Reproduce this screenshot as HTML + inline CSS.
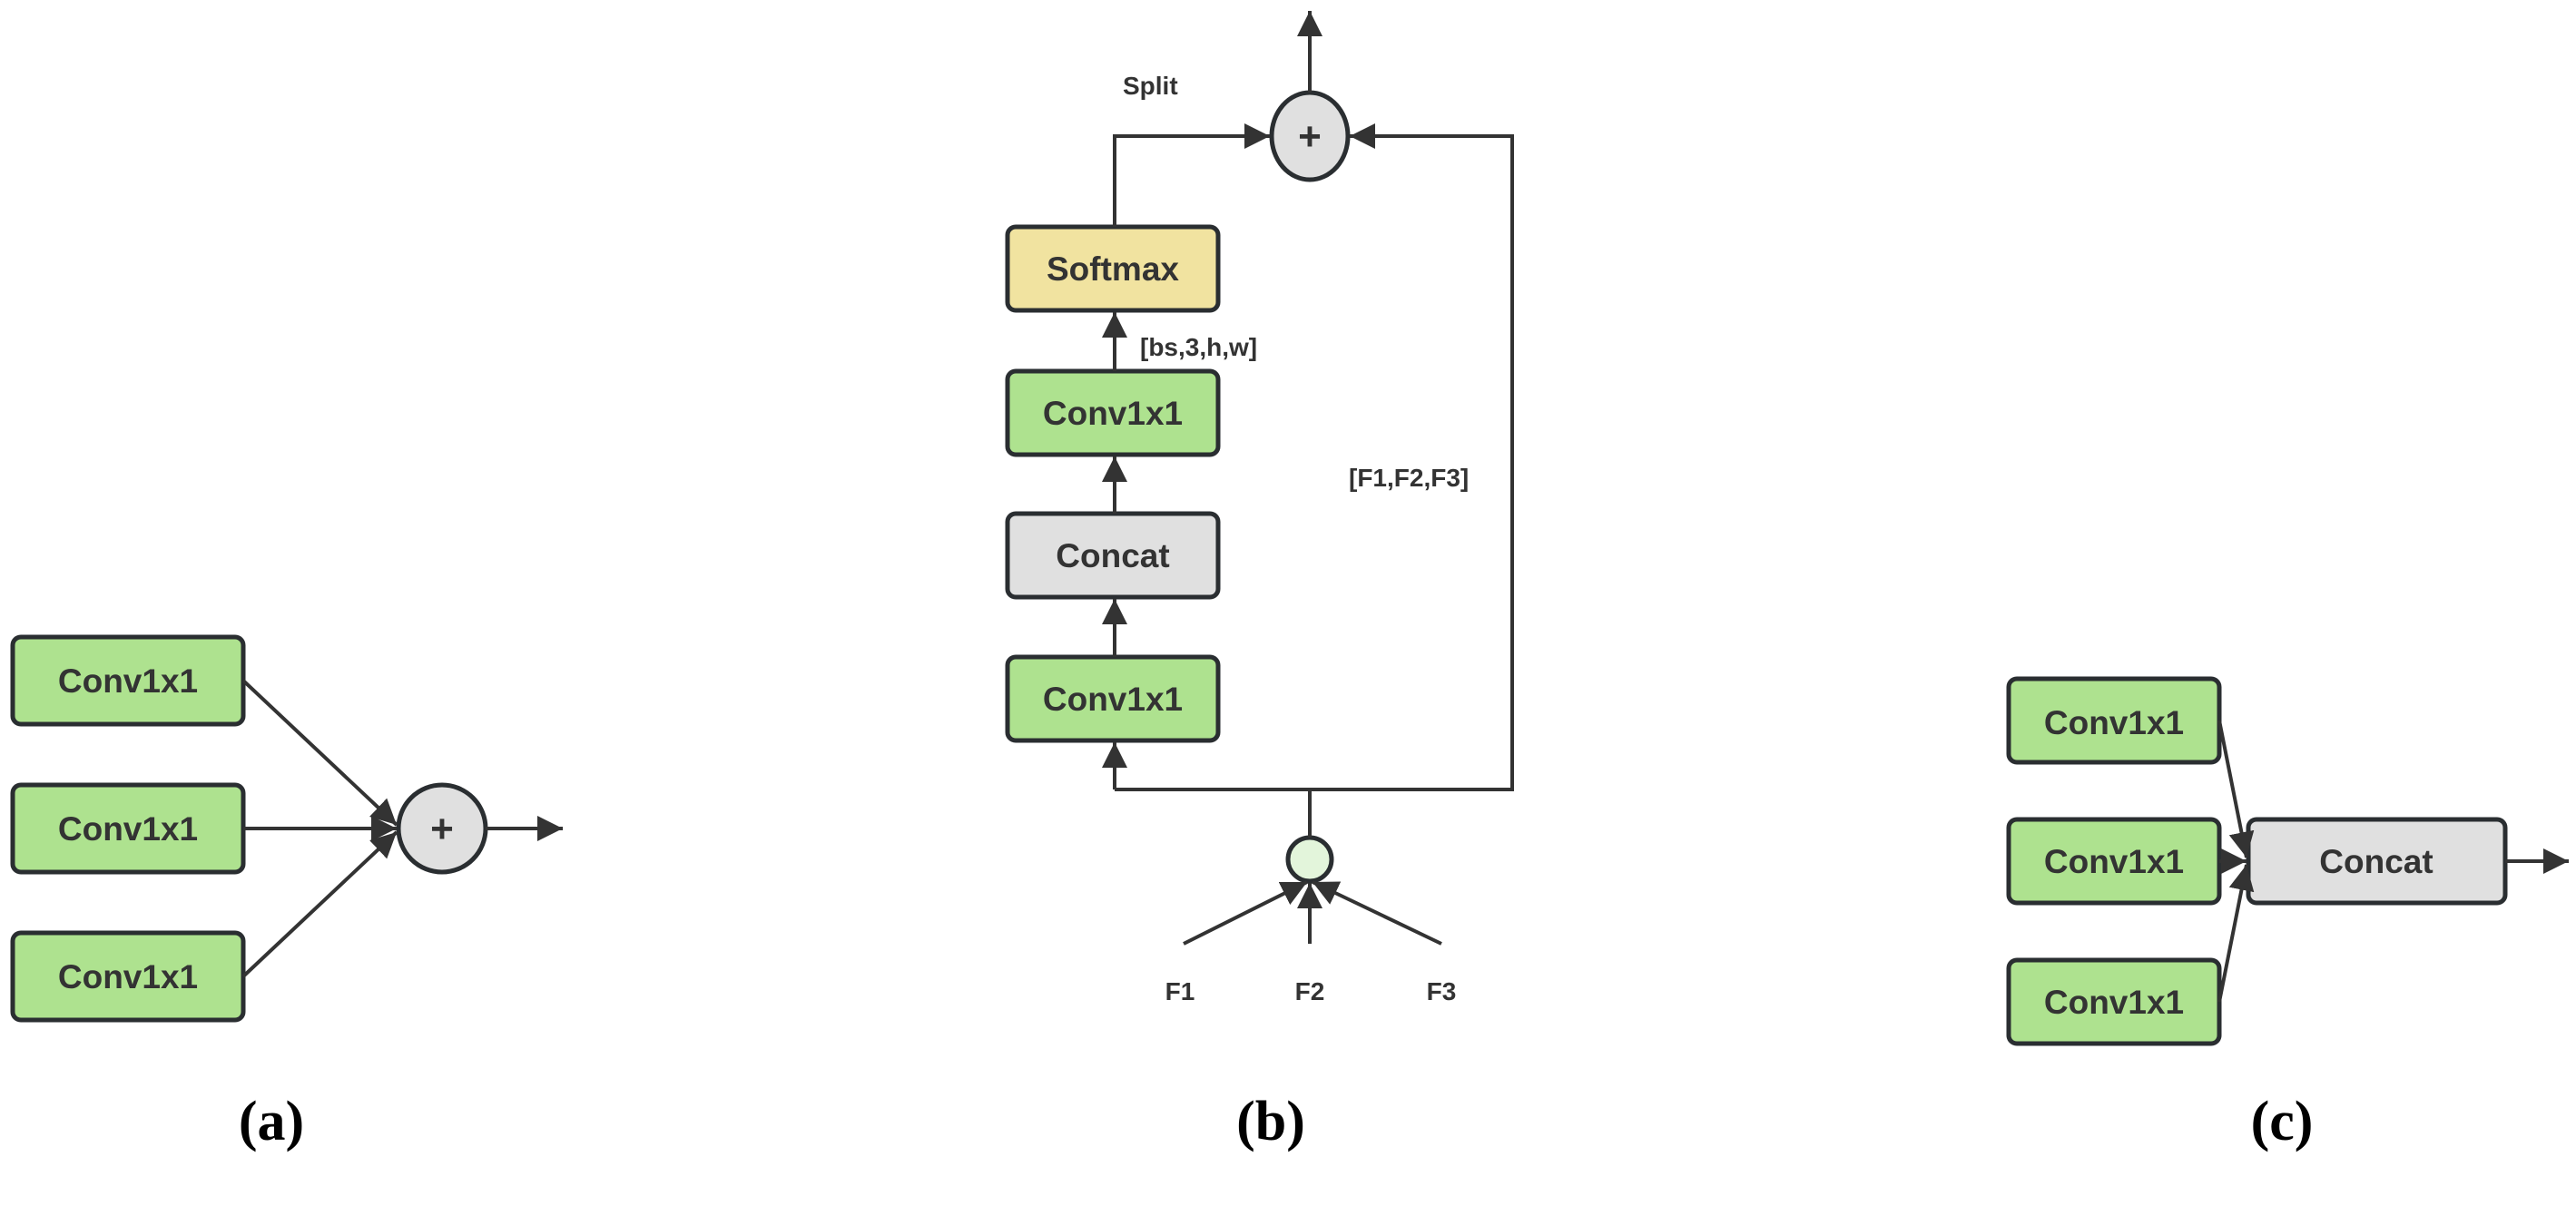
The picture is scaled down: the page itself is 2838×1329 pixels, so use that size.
<!DOCTYPE html>
<html><head><meta charset="utf-8"><style>
html,body{margin:0;padding:0;background:#fff;}
svg{display:block;}
.t{font-family:"Liberation Sans",sans-serif;font-weight:bold;fill:#333;}
.s{font-family:"Liberation Serif",serif;font-weight:bold;fill:#000;}
</style></head><body>
<svg width="2838" height="1329" viewBox="0 0 2838 1329" xmlns="http://www.w3.org/2000/svg">
<defs>
<marker id="ar" viewBox="0 0 10 10" refX="10" refY="5" markerWidth="7" markerHeight="7" markerUnits="strokeWidth" orient="auto">
<path d="M0,0 L10,5 L0,10 z" fill="#333"/></marker>
</defs>
<g stroke="#2a2e31" stroke-width="5">
<rect x="14" y="702" width="254" height="96" rx="9" fill="#aee28f"/>
<rect x="14" y="865" width="254" height="96" rx="9" fill="#aee28f"/>
<rect x="14" y="1028" width="254" height="96" rx="9" fill="#aee28f"/>
<circle cx="487" cy="913" r="48" fill="#e0e0e0"/>
<rect x="1110" y="250" width="232" height="92" rx="9" fill="#f1e3a0"/>
<rect x="1110" y="409" width="232" height="92" rx="9" fill="#aee28f"/>
<rect x="1110" y="566" width="232" height="92" rx="9" fill="#e0e0e0"/>
<rect x="1110" y="724" width="232" height="92" rx="9" fill="#aee28f"/>
<ellipse cx="1443" cy="150" rx="42" ry="48" fill="#e0e0e0"/>
<circle cx="1443" cy="947" r="24" fill="#e3f5db"/>
<rect x="2213" y="748" width="232" height="92" rx="9" fill="#aee28f"/>
<rect x="2213" y="903" width="232" height="92" rx="9" fill="#aee28f"/>
<rect x="2213" y="1058" width="232" height="92" rx="9" fill="#aee28f"/>
<rect x="2477" y="903" width="283" height="92" rx="9" fill="#e0e0e0"/>
</g>
<g stroke="#333" stroke-width="4" fill="none">
<line x1="268" y1="750" x2="437" y2="909" marker-end="url(#ar)"/>
<line x1="268" y1="913" x2="437" y2="913" marker-end="url(#ar)"/>
<line x1="268" y1="1076" x2="437" y2="917" marker-end="url(#ar)"/>
<line x1="535" y1="913" x2="620" y2="913" marker-end="url(#ar)"/>
<line x1="1443" y1="102" x2="1443" y2="12" marker-end="url(#ar)"/>
<polyline points="1228,250 1228,150 1399,150" marker-end="url(#ar)"/>
<polyline points="1228,870 1666,870 1666,150 1487,150" marker-end="url(#ar)"/>
<line x1="1228" y1="870" x2="1228" y2="818" marker-end="url(#ar)"/>
<line x1="1443" y1="870" x2="1443" y2="923"/>
<line x1="1228" y1="724" x2="1228" y2="660" marker-end="url(#ar)"/>
<line x1="1228" y1="566" x2="1228" y2="503" marker-end="url(#ar)"/>
<line x1="1228" y1="409" x2="1228" y2="344" marker-end="url(#ar)"/>
<line x1="1304" y1="1040" x2="1440" y2="972" marker-end="url(#ar)"/>
<line x1="1443" y1="1040" x2="1443" y2="973" marker-end="url(#ar)"/>
<line x1="1588" y1="1040" x2="1446" y2="972" marker-end="url(#ar)"/>
<line x1="2445" y1="794" x2="2475" y2="945" marker-end="url(#ar)"/>
<line x1="2445" y1="949" x2="2475" y2="949" marker-end="url(#ar)"/>
<line x1="2445" y1="1104" x2="2475" y2="953" marker-end="url(#ar)"/>
<line x1="2760" y1="949" x2="2830" y2="949" marker-end="url(#ar)"/>
</g>
<g class="t" font-size="37" text-anchor="middle">
<text x="141" y="763">Conv1x1</text>
<text x="141" y="926">Conv1x1</text>
<text x="141" y="1089">Conv1x1</text>
<text x="1226" y="309">Softmax</text>
<text x="1226" y="468">Conv1x1</text>
<text x="1226" y="625">Concat</text>
<text x="1226" y="783">Conv1x1</text>
<text x="2329" y="809">Conv1x1</text>
<text x="2329" y="962">Conv1x1</text>
<text x="2329" y="1117">Conv1x1</text>
<text x="2618" y="962">Concat</text>
</g>
<g class="t" font-size="44" text-anchor="middle">
<text x="487" y="928">+</text>
<text x="1443" y="165">+</text>
</g>
<g class="t" font-size="28">
<text x="1237" y="104">Split</text>
<text x="1256" y="392">[bs,3,h,w]</text>
<text x="1486" y="536">[F1,F2,F3]</text>
<text x="1300" y="1102" text-anchor="middle">F1</text>
<text x="1443" y="1102" text-anchor="middle">F2</text>
<text x="1588" y="1102" text-anchor="middle">F3</text>
</g>
<g class="s" font-size="62" text-anchor="middle">
<text x="299" y="1256">(a)</text>
<text x="1400" y="1256">(b)</text>
<text x="2514" y="1256">(c)</text>
</g>
</svg>
</body></html>
